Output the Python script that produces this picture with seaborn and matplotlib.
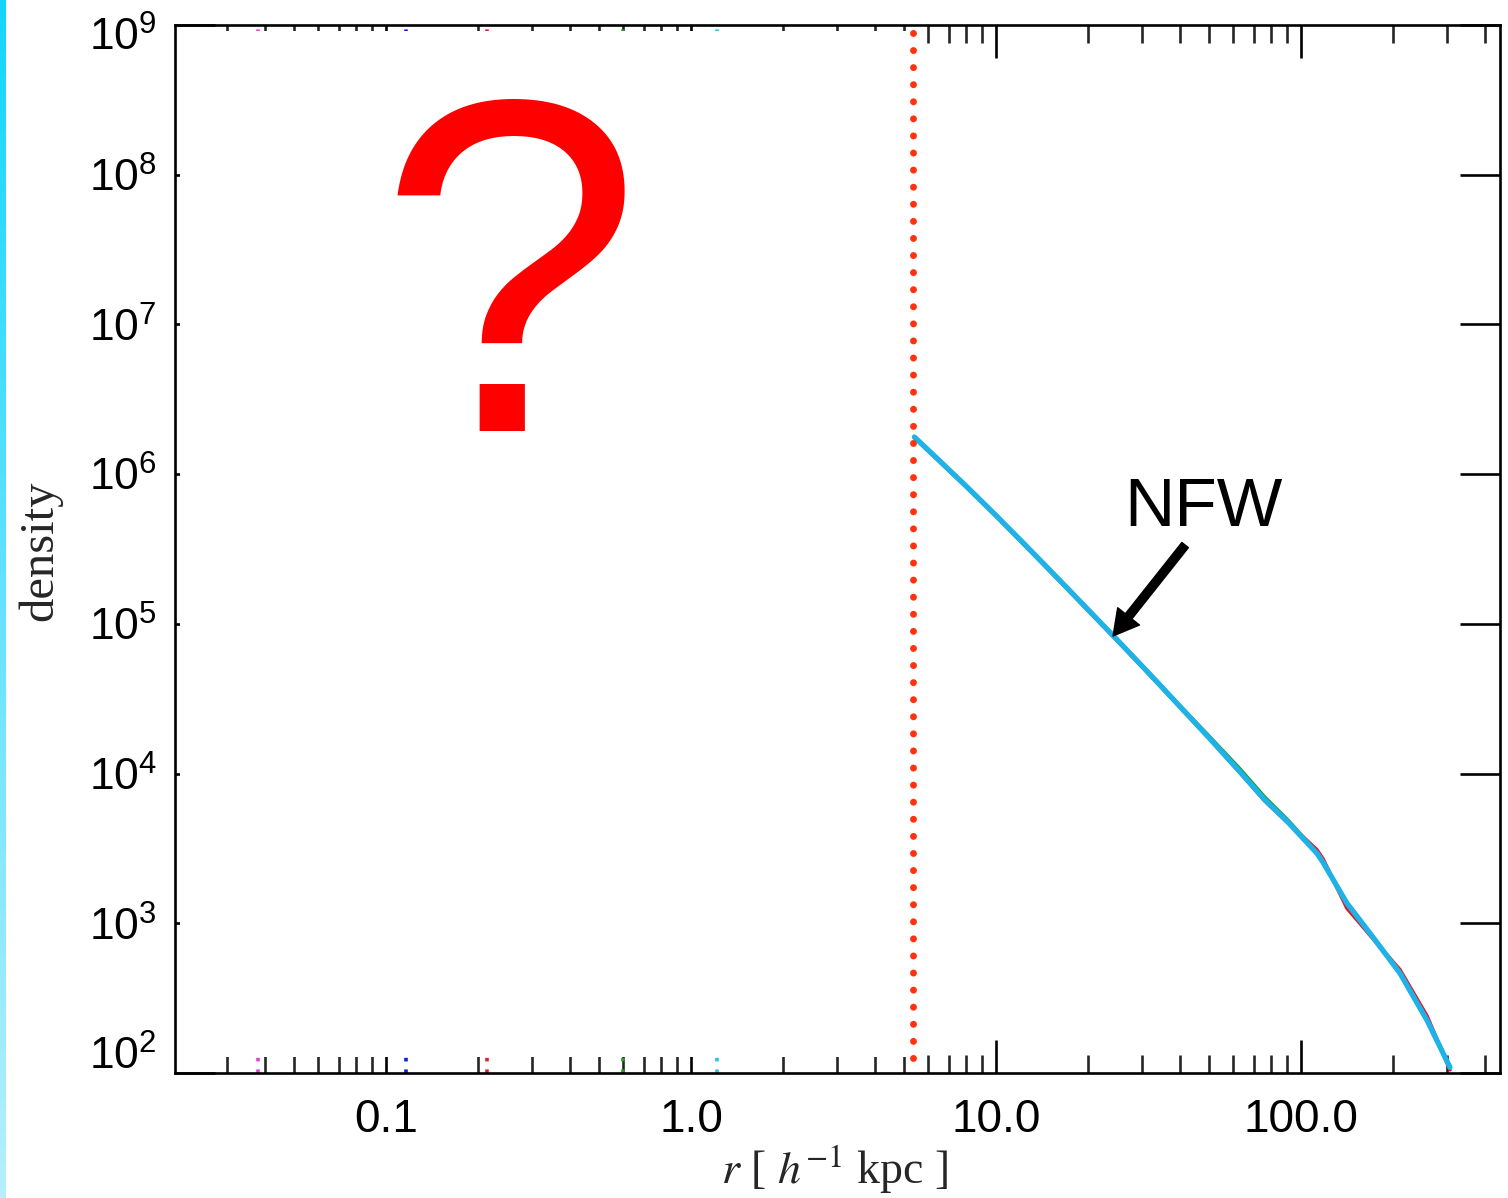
import numpy as np
import pandas as pd
import matplotlib
matplotlib.use("Agg")
import matplotlib.pyplot as plt
import matplotlib.transforms as mtransforms
from matplotlib.colors import LinearSegmentedColormap
from matplotlib.patches import Rectangle
from matplotlib.ticker import FixedLocator, NullLocator
import seaborn as sns

# ---------------------------------------------------------------- data
# radius in h^-1 kpc
radius = [5.4, 6.5, 8.0, 10.0, 12.5, 16.0, 20.0, 25.0, 32.0, 40.0, 50.0,
          63.0, 76.2, 90.6, 112.7, 118.0, 141.5, 156.0, 172.0, 211.0, 259.0, 308.0]

# density profiles of the individual runs
rho_cyan = [1.77e6, 1.24e6, 8.28e5, 5.30e5, 3.35e5, 2.00e5, 1.25e5, 7.80e4, 4.59e4,
            2.82e4, 1.73e4, 1.03e4, 6.65e3, 4.74e3, 2.94e3, 2.56e3, 1.36e3, 1.05e3,
            809, 465, 225, 109]
rho_red = [1.77e6, 1.24e6, 8.25e5, 5.28e5, 3.34e5, 2.00e5, 1.25e5, 7.75e4, 4.55e4,
           2.80e4, 1.72e4, 1.02e4, 6.55e3, 4.70e3, 3.10e3, 2.70e3, 1.26e3, 1.00e3,
           790, 490, 240, 105]
rho_green = [1.76e6, 1.24e6, 8.30e5, 5.32e5, 3.36e5, 2.01e5, 1.26e5, 7.85e4, 4.65e4,
             2.86e4, 1.78e4, 1.08e4, 6.95e3, 4.90e3, 2.98e3, 2.58e3, 1.35e3, 1.04e3,
             800, 460, 222, 110]
rho_magenta = [1.78e6, 1.25e6, 8.30e5, 5.31e5, 3.36e5, 2.01e5, 1.25e5, 7.80e4, 4.58e4,
               2.81e4, 1.72e4, 1.02e4, 6.60e3, 4.68e3, 3.02e3, 2.62e3, 1.33e3, 1.03e3,
               800, 470, 230, 108]
rho_blue = [1.75e6, 1.22e6, 8.18e5, 5.24e5, 3.30e5, 1.97e5, 1.23e5, 7.70e4, 4.55e4,
            2.80e4, 1.72e4, 1.02e4, 6.62e3, 4.72e3, 2.95e3, 2.57e3, 1.37e3, 1.06e3,
            815, 468, 228, 110]

run_names = ["red", "green", "magenta", "blue", "cyan"]
run_colors = ["#e8101a", "#1a9a2a", "#d030c8", "#101890", "#1eb2e6"]
run_widths = [2.6, 2.4, 2.2, 2.4, 3.8]
run_values = [rho_red, rho_green, rho_magenta, rho_blue, rho_cyan]

# softening scales of the runs (h^-1 kpc)
soft_r = [0.038, 0.116, 0.214, 0.598, 1.22]
soft_colors = ["#e040e0", "#1020e0", "#e02030", "#2a9a2a", "#30c0e0"]

# resolution limit
r_conv = 5.35

x_ticks = [0.1, 1.0, 10.0, 100.0]
x_ticklabels = ["0.1", "1.0", "10.0", "100.0"]
y_exponents = [2, 3, 4, 5, 6, 7, 8, 9]

# ---------------------------------------------------------------- style
sns.set_theme(style="white")
plt.rcParams.update({
    "font.family": ["Liberation Sans", "DejaVu Sans"],
    "mathtext.fontset": "custom",
    "mathtext.rm": "Liberation Sans",
    "mathtext.it": "Liberation Sans:italic",
    "mathtext.bf": "Liberation Sans:bold",
    "axes.edgecolor": "black",
    "axes.linewidth": 1.9,
})

W, H = 1508, 1198
fig = plt.figure(figsize=(W / 100, H / 100), dpi=100)
fig.patch.set_facecolor("white")

# thin gradient bar on the left edge
bar_ax = fig.add_axes([0, 0, 6 / W, 1])
grad = np.linspace(0, 1, 256).reshape(-1, 1)
bar_cmap = LinearSegmentedColormap.from_list("edge", ["#12d6ff", "#b6effc"])
bar_ax.imshow(grad, aspect="auto", cmap=bar_cmap, extent=[0, 1, 0, 1], origin="upper")
bar_ax.set_axis_off()

ax = fig.add_axes([175 / W, 1 - 1073 / H, 1325 / W, 1048 / H])
ax.set_xscale("log")
ax.set_yscale("log")

# softening scales (dotted verticals)
for r, c in zip(soft_r, soft_colors):
    ax.axvline(r, color=c, lw=2.6, ls=(0, (1, 2.2)), zorder=1)

# density profiles
frames = []
for name, vals in zip(run_names, run_values):
    frames.append(pd.DataFrame({"r": radius, "rho": vals, "run": name}))
profiles = pd.concat(frames, ignore_index=True)
for name, col, lw in zip(run_names, run_colors, run_widths):
    sub = profiles[profiles["run"] == name]
    sns.lineplot(data=sub, x="r", y="rho", ax=ax, color=col, lw=lw,
                 estimator=None, sort=False, zorder=4)

ax.set_xlim(10 ** (1 + (175 - 996) / 305), 10 ** (1 + (1500 - 996) / 305))
ax.set_ylim(1e2, 1e9)

# inner region left blank
ax.add_patch(Rectangle((0.004, 16 / 1048), (912 - 180) / 1325, 1 - 16 / 1048 - 6 / 1048,
                       transform=ax.transAxes, facecolor="white", edgecolor="none",
                       zorder=3.5))

# resolution limit
ax.plot([r_conv, r_conv], [10 ** 2.1, 1e9], color="#ff3210", lw=5.0,
        ls=(0, (0.01, 2.45)), dash_capstyle="round", zorder=5, clip_on=False)

# ---------------------------------------------------------------- axes
minor = [k * 10.0 ** n for n in range(-2, 3) for k in range(2, 10)]
ax.xaxis.set_major_locator(FixedLocator(x_ticks))
ax.xaxis.set_minor_locator(FixedLocator(minor))
ax.set_xticklabels(x_ticklabels)
ax.yaxis.set_major_locator(FixedLocator([10.0 ** e for e in y_exponents]))
ax.yaxis.set_minor_locator(NullLocator())
ax.set_yticklabels([rf"$\mathregular{{10^{{{e}}}}}$" for e in y_exponents])

ax.tick_params(axis="x", which="major", direction="in", length=24, width=1.9,
               top=True, bottom=True, pad=18, labelsize=33, colors="black")
ax.tick_params(axis="x", which="minor", direction="in", length=13, width=1.9,
               top=True, bottom=True)
ax.tick_params(axis="y", which="major", direction="in", length=29, width=1.9,
               left=True, right=True, pad=13, labelsize=32, colors="black")
for s in ax.spines.values():
    s.set_color("black")
    s.set_linewidth(1.9)
    s.set_zorder(6)
ax.grid(False)
ax.set_xlabel("")
ax.set_ylabel("")

# end labels pulled inside the frame
ylabels = ax.get_yticklabels()
ylabels[-1].set_transform(ylabels[-1].get_transform() +
                          mtransforms.ScaledTranslation(0, -9 / 100, fig.dpi_scale_trans))
ylabels[0].set_transform(ylabels[0].get_transform() +
                         mtransforms.ScaledTranslation(0, 20 / 100, fig.dpi_scale_trans))

fig.text(835 / W, 1 - 1170 / H, r"$r$ [ $h^{-1}$ kpc ]", ha="center", va="center",
         fontsize=33, family="Liberation Serif", math_fontfamily="stix")
fig.text(40 / W, 1 - 551 / H, "density", rotation=90, ha="center", va="center",
         fontsize=35, family="Liberation Serif")

# annotations
ax.annotate("", xy=(24.2, 8.3e4), xytext=(41.7, 3.36e5),
            arrowprops=dict(width=6, headwidth=20, headlength=18, color="black",
                            shrink=0.0), zorder=7)
ax.text(47.7, 5.9e5, "NFW", ha="center", va="center", fontsize=50, color="black",
        zorder=7)
fig.text(510 / W, 1 - 308 / H, "?", ha="center", va="center", fontsize=342,
         color="#ff0000", fontweight="normal", zorder=8)

fig.savefig("out.png", dpi=100, facecolor="white")
